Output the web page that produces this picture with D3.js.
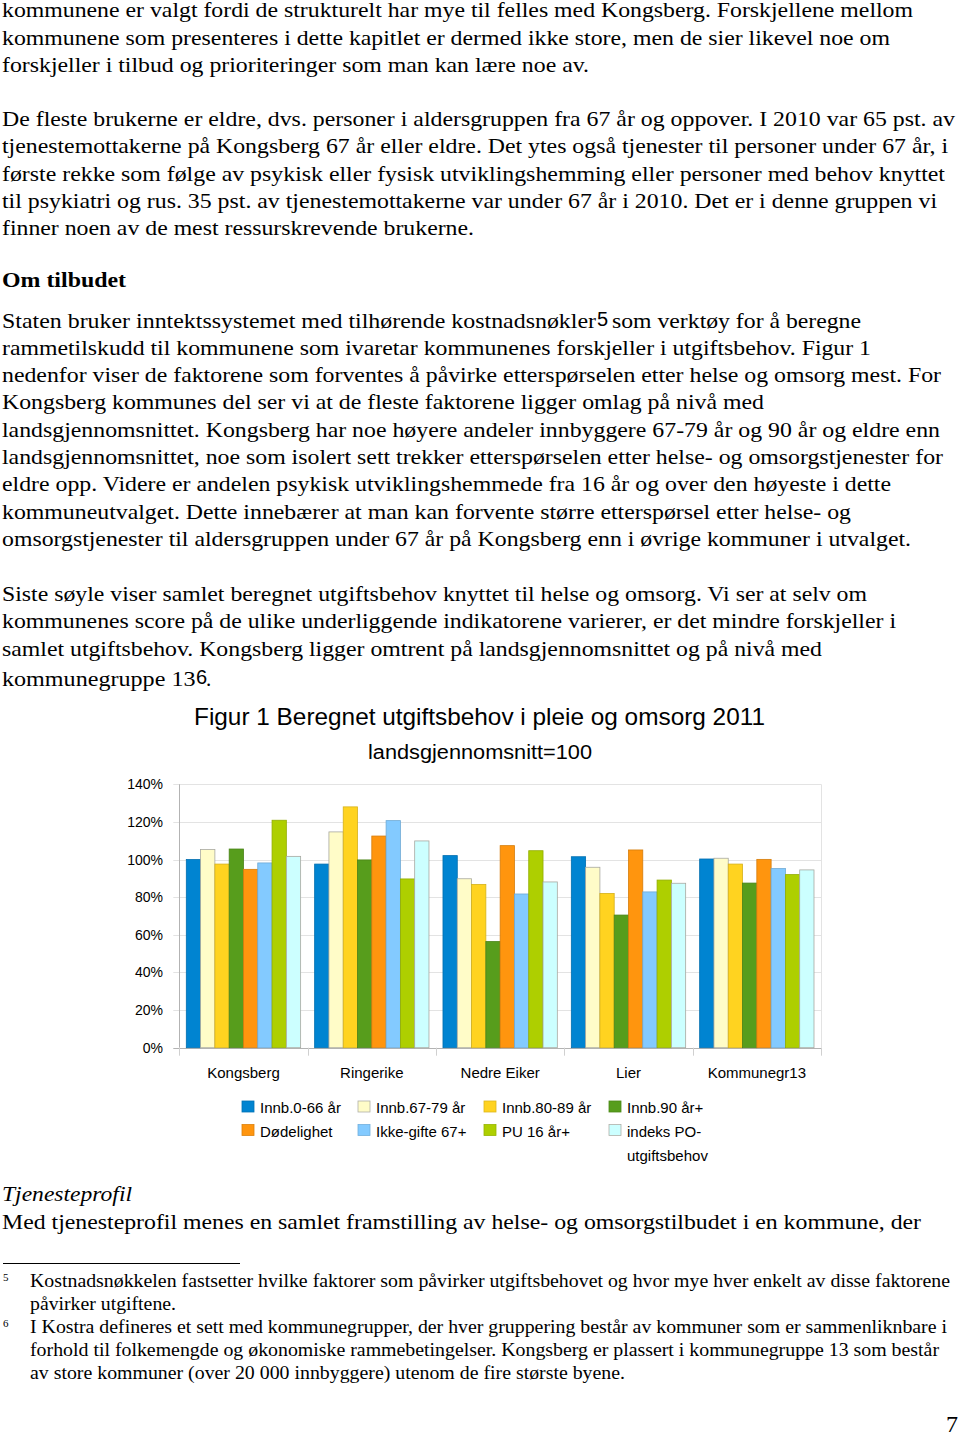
<!DOCTYPE html>
<html>
<head>
<meta charset="utf-8">
<script src="https://cdn.jsdelivr.net/npm/d3@7"></script>
<style>
  html, body { margin: 0; padding: 0; background: #fff; }
  svg { display: block; }
  .serif { font-family: "Liberation Serif", "Times New Roman", serif; fill: #000; }
  .sans { font-family: "Liberation Sans", Arial, sans-serif; fill: #000; }
</style>
</head>
<body>
<svg id="page" width="960" height="1436"></svg>
<script>
// ---------------- chart data ----------------
const categories = ["Kongsberg", "Ringerike", "Nedre Eiker", "Lier", "Kommunegr13"];
const seriesNames = ["Innb.0-66 år", "Innb.67-79 år", "Innb.80-89 år", "Innb.90 år+",
                     "Dødelighet", "Ikke-gifte 67+", "PU 16 år+", "indeks PO-utgiftsbehov"];
const innb0_66   = [100.0,  97.6, 102.1, 101.5, 100.3];
const innb67_79  = [105.3, 114.7,  89.8,  95.9, 100.7];
const innb80_89  = [ 97.6, 128.0,  86.8,  82.0,  97.6];
const innb90     = [105.6,  99.8,  56.4,  70.5,  87.5];
const dodelighet = [ 94.8, 112.5, 107.4, 105.1, 100.1];
const ikkeGifte  = [ 98.2, 120.7,  81.7,  82.8,  95.2];
const pu16       = [120.9,  89.7, 104.7,  89.1,  92.0];
const indeksPO   = [101.7, 109.9,  88.1,  87.4,  94.5];
const seriesValues = [innb0_66, innb67_79, innb80_89, innb90, dodelighet, ikkeGifte, pu16, indeksPO];
const seriesColors = ["#0084d1", "#fffcc8", "#ffd320", "#579d1c", "#ff950e", "#83caff", "#aecf00", "#ccffff"];
const yTicks = [0, 20, 40, 60, 80, 100, 120, 140];
const chartTitle = "Figur 1 Beregnet utgiftsbehov i pleie og omsorg 2011";
const chartSubtitle = "landsgjennomsnitt=100";

// ---------------- page text ----------------
const para1 = [
  ["kommunene er valgt fordi de strukturelt har mye til felles med Kongsberg. Forskjellene mellom", 913],
  ["kommunene som presenteres i dette kapitlet er dermed ikke store, men de sier likevel noe om", 890],
  ["forskjeller i tilbud og prioriteringer som man kan lære noe av.", 589]
];
const para2 = [
  ["De fleste brukerne er eldre, dvs. personer i aldersgruppen fra 67 år og oppover. I 2010 var 65 pst. av", 955],
  ["tjenestemottakerne på Kongsberg 67 år eller eldre. Det ytes også tjenester til personer under 67 år, i", 948],
  ["første rekke som følge av psykisk eller fysisk utviklingshemming eller personer med behov knyttet", 945],
  ["til psykiatri og rus. 35 pst. av tjenestemottakerne var under 67 år i 2010. Det er i denne gruppen vi", 937],
  ["finner noen av de mest ressurskrevende brukerne.", 474]
];
const para3 = [
  null,
  ["rammetilskudd til kommunene som ivaretar kommunenes forskjeller i utgiftsbehov. Figur 1", 871],
  ["nedenfor viser de faktorene som forventes å påvirke etterspørselen etter helse og omsorg mest. For", 941],
  ["Kongsberg kommunes del ser vi at de fleste faktorene ligger omlag på nivå med", 764],
  ["landsgjennomsnittet. Kongsberg har noe høyere andeler innbyggere 67-79 år og 90 år og eldre enn", 940],
  ["landsgjennomsnittet, noe som isolert sett trekker etterspørselen etter helse- og omsorgstjenester for", 943],
  ["eldre opp. Videre er andelen psykisk utviklingshemmede fra 16 år og over den høyeste i dette", 891],
  ["kommuneutvalget. Dette innebærer at man kan forvente større etterspørsel etter helse- og", 851],
  ["omsorgstjenester til aldersgruppen under 67 år på Kongsberg enn i øvrige kommuner i utvalget.", 911]
];
const para4 = [
  ["Siste søyle viser samlet beregnet utgiftsbehov knyttet til helse og omsorg. Vi ser at selv om", 867],
  ["kommunenes score på de ulike underliggende indikatorene varierer, er det mindre forskjeller i", 896],
  ["samlet utgiftsbehov. Kongsberg ligger omtrent på landsgjennomsnittet og på nivå med", 822]
];
const footnotes = [
  ["Kostnadsnøkkelen fastsetter hvilke faktorer som påvirker utgiftsbehovet og hvor mye hver enkelt av disse faktorene", 950],
  ["påvirker utgiftene.", 176],
  ["I Kostra defineres et sett med kommunegrupper, der hver gruppering består av kommuner som er sammenliknbare i", 947],
  ["forhold til folkemengde og økonomiske rammebetingelser. Kongsberg er plassert i kommunegruppe 13 som består", 939],
  ["av store kommuner (over 20 000 innbyggere) utenom de fire største byene.", 625]
];

(function () {
const svg = d3.select("#page");
const X0 = 2;

function line(txt, endX, yy, opts = {}) {
  const x = opts.x !== undefined ? opts.x : X0;
  const t = svg.append("text")
    .attr("class", opts.cls || "serif")
    .attr("x", x).attr("y", yy)
    .attr("font-size", opts.size || 21)
    .text(txt);
  if (opts.weight) t.attr("font-weight", opts.weight);
  if (opts.style) t.attr("font-style", opts.style);
  if (endX) t.attr("textLength", endX - x).attr("lengthAdjust", "spacingAndGlyphs");
  return t;
}

const LH = 27.3;
para1.forEach((d, i) => line(d[0], d[1], 17.2 + i * LH));
para2.forEach((d, i) => line(d[0], d[1], 125.9 + i * LH));
line("Om tilbudet", 126, 286.7, { weight: "bold" });

const p3y = 327.5;
line("Staten bruker inntektssystemet med tilhørende kostnadsnøkler", 596, p3y);
line("5", null, p3y - 2, { x: 597, cls: "sans", size: 20 });
line("som verktøy for å beregne", 861, p3y, { x: 612 });
para3.forEach((d, i) => { if (d) line(d[0], d[1], p3y + i * LH); });

para4.forEach((d, i) => line(d[0], d[1], 601 + i * LH));
line("kommunegruppe 13", 195.5, 686);
line("6", null, 684, { x: 196, cls: "sans", size: 20 });
line(".", null, 686, { x: 206 });

line("Tjenesteprofil", 132, 1200.7, { style: "italic" });
line("Med tjenesteprofil menes en samlet framstilling av helse- og omsorgstilbudet i en kommune, der", 921, 1228.5);

svg.append("line").attr("x1", 3).attr("x2", 240).attr("y1", 1263.5).attr("y2", 1263.5)
  .attr("stroke", "#000").attr("stroke-width", 1);
const fnY = [1287, 1310, 1333, 1356, 1379];
footnotes.forEach((d, i) => line(d[0], d[1], fnY[i], { x: 30, size: 19 }));
line("5", null, 1281, { x: 3, size: 11 });
line("6", null, 1327, { x: 3, size: 11 });
line("7", null, 1432, { x: 946, size: 24 });

// ---------------- chart ----------------
const pLeft = 179.3, pRight = 821, pTop = 784.3, pBottom = 1047.7;
const y = d3.scaleLinear().domain([0, 140]).range([pBottom, pTop]);
const x0 = d3.scaleBand().domain(categories).range([pLeft, pRight]).padding(0);
const x1 = d3.scaleBand().domain(seriesNames).range([7, x0.bandwidth() - 7]).padding(0);
const color = d3.scaleOrdinal().domain(seriesNames).range(seriesColors);

const g = svg.append("g");

g.selectAll("line.grid").data(yTicks).join("line")
  .attr("x1", pLeft - 6).attr("x2", pRight)
  .attr("y1", d => Math.round(y(d)) + 0.5).attr("y2", d => Math.round(y(d)) + 0.5)
  .attr("stroke", d => d === 0 ? "#b3b3b3" : "#e3e3e3").attr("stroke-width", 1);
g.append("line").attr("x1", pRight + 0.5).attr("x2", pRight + 0.5)
  .attr("y1", y(140)).attr("y2", y(0)).attr("stroke", "#e3e3e3");
g.append("line").attr("x1", Math.round(pLeft) + 0.5).attr("x2", Math.round(pLeft) + 0.5)
  .attr("y1", y(140)).attr("y2", y(0)).attr("stroke", "#b3b3b3");
const seps = categories.map(c => x0(c)).concat([pRight]);
g.selectAll("line.sep").data(seps).join("line")
  .attr("x1", d => Math.round(d) + 0.5).attr("x2", d => Math.round(d) + 0.5)
  .attr("y1", y(0)).attr("y2", y(0) + 8).attr("stroke", "#d0d0d0");

g.selectAll("text.ytick").data(yTicks).join("text")
  .attr("class", "sans")
  .attr("x", 163).attr("y", d => y(d)).attr("dy", "0.36em")
  .attr("text-anchor", "end").attr("font-size", 14)
  .text(d => d + "%");

const groups = g.selectAll("g.cat").data(categories).join("g")
  .attr("transform", c => `translate(${x0(c)},0)`);
groups.selectAll("rect").data((c, ci) => seriesNames.map((s, si) => ({ s, v: seriesValues[si][ci] })))
  .join("rect")
  .attr("x", d => x1(d.s))
  .attr("y", d => y(d.v))
  .attr("width", x1.bandwidth())
  .attr("height", d => y(0) - y(d.v))
  .attr("fill", d => color(d.s))
  .attr("stroke", d => {
    const c = d3.color(color(d.s));
    return (d3.hsl(c).l > 0.8) ? "#a8a8a0" : c.darker(0.5);
  })
  .attr("stroke-width", 0.8);

g.selectAll("text.cat").data(categories).join("text")
  .attr("class", "sans")
  .attr("x", c => x0(c) + x0.bandwidth() / 2).attr("y", 1077.5)
  .attr("text-anchor", "middle").attr("font-size", 15)
  .text(c => c);

svg.append("text").attr("class", "sans").attr("x", 194).attr("y", 725)
  .attr("font-size", 24).attr("textLength", 571).attr("lengthAdjust", "spacingAndGlyphs")
  .text(chartTitle);
svg.append("text").attr("class", "sans").attr("x", 368).attr("y", 759)
  .attr("font-size", 20).attr("textLength", 224).attr("lengthAdjust", "spacingAndGlyphs")
  .text(chartSubtitle);

const legCol = [242, 358, 484, 609];
const legRowY = [1113, 1136.5];
const leg = svg.append("g").selectAll("g").data(seriesNames).join("g")
  .attr("transform", (s, i) => `translate(${legCol[i % 4]},${legRowY[Math.floor(i / 4)]})`);
leg.append("rect").attr("x", 0).attr("y", -12).attr("width", 12).attr("height", 11)
  .attr("fill", s => color(s))
  .attr("stroke", s => d3.hsl(color(s)).l > 0.8 ? "#b0b0a8" : d3.color(color(s)).darker(0.4))
  .attr("stroke-width", 0.8);
leg.each(function (s) {
  const parts = s.includes("PO-") ? ["indeks PO-", "utgiftsbehov"] : [s];
  const t = d3.select(this).append("text").attr("class", "sans").attr("font-size", 15);
  parts.forEach((p, k) => t.append("tspan").attr("x", 18).attr("y", k * 24).text(p));
});
})();
</script>
</body>
</html>
